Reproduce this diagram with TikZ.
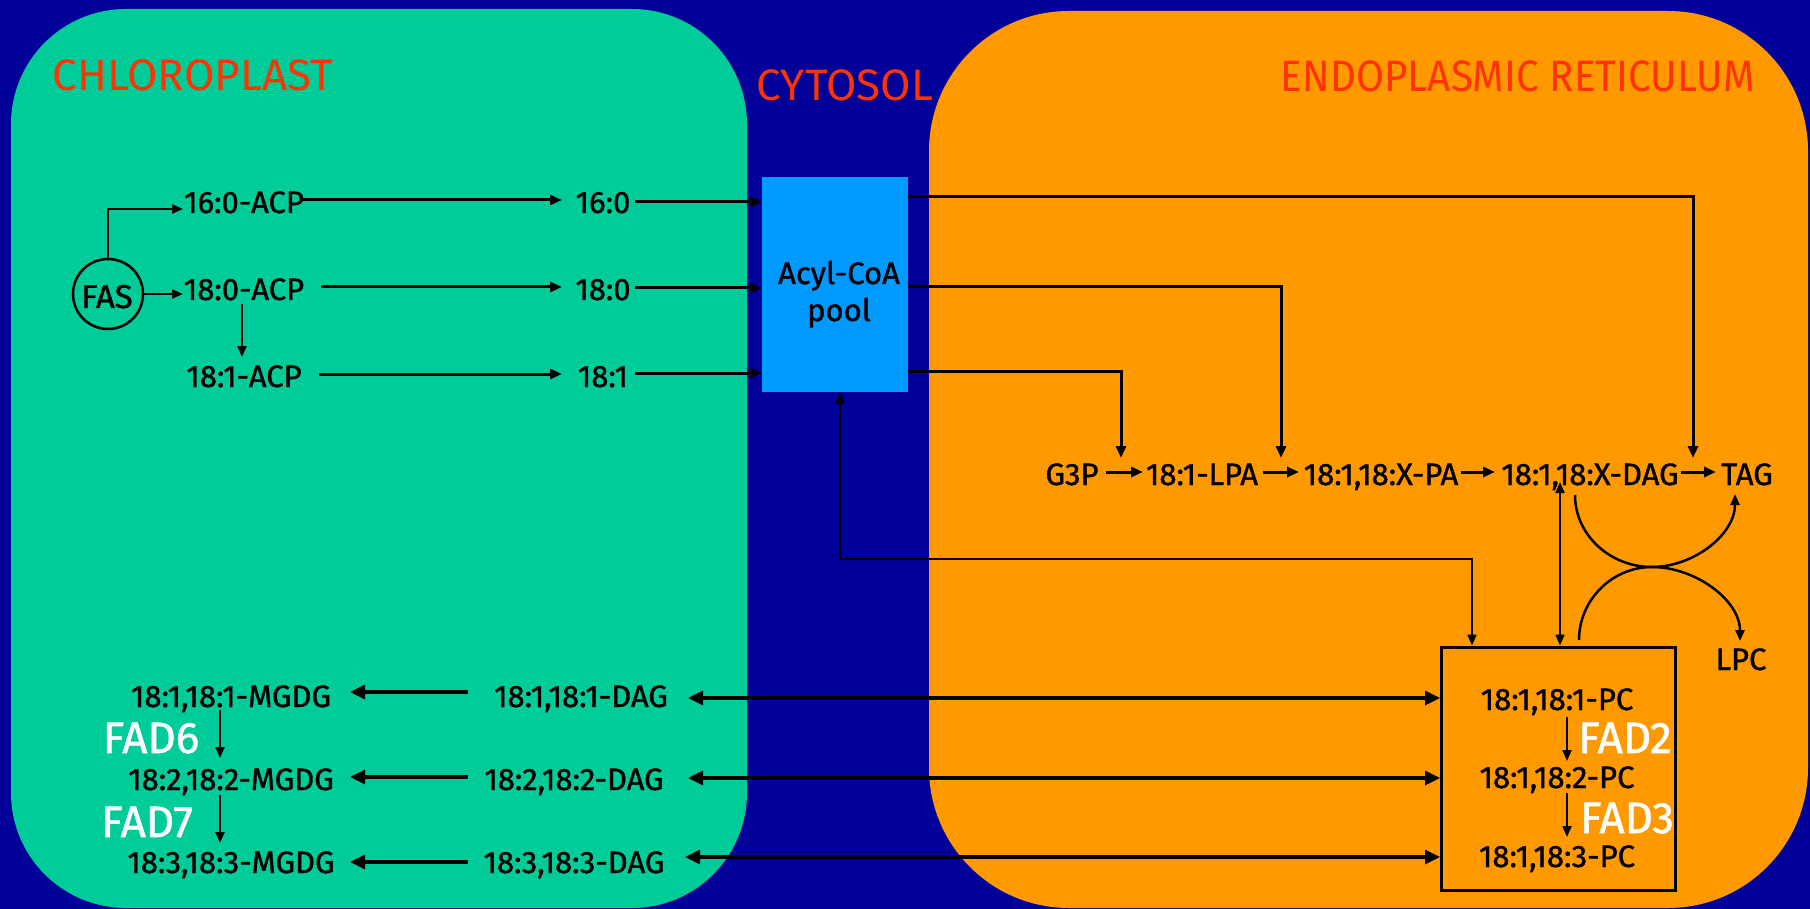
\documentclass[tikz,border=0pt]{standalone}
\usepackage{fontspec}
\setmainfont{Fira Sans}
\newfontfamily\erfont{Fira Sans}[FakeStretch=0.92]
\newfontfamily\lblfont{Fira Sans}[FakeBold=1.2]
\usetikzlibrary{arrows.meta}
\definecolor{bgblue}{RGB}{0,0,153}
\definecolor{chlgreen}{RGB}{0,204,153}
\definecolor{erorange}{RGB}{255,153,0}
\definecolor{acylblue}{RGB}{0,153,255}
\definecolor{titlered}{RGB}{255,51,0}
\tikzset{
  lbl/.style={inner sep=0pt, anchor=base, font=\fontsize{31}{34}\lblfont},
  ttl/.style={inner sep=0pt, anchor=base, text=titlered, font=\fontsize{44}{48}\selectfont},
  fad/.style={inner sep=0pt, anchor=base, text=white, font=\fontsize{44}{48}\lblfont},
  arr/.style={-{Triangle[length=12pt,width=10pt]}, line width=3pt},
  thinarr/.style={-{Triangle[length=11pt,width=9pt]}, line width=2.2pt},
  bigarr/.style={-{Triangle[length=15pt,width=14pt]}, line width=3.2pt},
  dblarr/.style={{Triangle[length=15pt,width=14pt]}-{Triangle[length=15pt,width=14pt]}, line width=3.2pt},
  thindbl/.style={{Triangle[length=11pt,width=9pt]}-{Triangle[length=11pt,width=9pt]}, line width=2.2pt},
  curvearr/.style={-{Triangle[length=11pt,width=9pt]}, line width=2.5pt},
}
\begin{document}
\begin{tikzpicture}[x=1pt,y=-1pt]
\useasboundingbox (0,0) rectangle (1810,909);
\fill[bgblue] (0,0) rectangle (1810,909);
% compartments
\fill[chlgreen, rounded corners=115pt] (11,9) rectangle (747,908);
\fill[erorange, rounded corners=140pt] (929,11) rectangle (1808,908);
% titles
\node[ttl] (tchl) at (193,91) {CHLOROPLAST};
\node[ttl] (tcyt) at (845,101) {CYTOSOL};
\node[ttl, font=\fontsize{44}{48}\erfont] (ter) at (1518,92) {ENDOPLASMIC RETICULUM};
% acyl-CoA pool
\node[fill=acylblue, minimum width=146pt, minimum height=215pt, inner sep=0pt] (acyl) at (835,284.5) {};
\node[lbl] (acylt1) at (839,284) {Acyl-CoA};
\node[lbl] (acylt2) at (839,321) {pool};
% FAS
\node[draw, circle, line width=2.5pt, minimum size=70pt, inner sep=0pt] (fas) at (108,294) {};
\node[lbl, font=\fontsize{33}{36}\lblfont] (fast) at (107,308) {FAS};
% chloroplast labels
\node[lbl] (a160) at (244,213) {16:0-ACP};
\node[lbl] (a180) at (244,300) {18:0-ACP};
\node[lbl] (a181) at (244,387) {18:1-ACP};
\node[lbl] (f160) at (603,213) {16:0};
\node[lbl] (f180) at (603,300) {18:0};
\node[lbl] (f181) at (603,387) {18:1};
\node[lbl] (m1) at (231,707) {18:1,18:1-MGDG};
\node[lbl] (m2) at (231,790) {18:2,18:2-MGDG};
\node[lbl] (m3) at (231,873) {18:3,18:3-MGDG};
\node[lbl] (d1) at (581,707) {18:1,18:1-DAG};
\node[lbl] (d2) at (574,790) {18:2,18:2-DAG};
\node[lbl] (d3) at (574,873) {18:3,18:3-DAG};
\node[fad] (fad6) at (151,753) {FAD6};
\node[fad] (fad7) at (147,837) {FAD7};
% ER labels
\node[lbl] (g3p) at (1072,485) {G3P};
\node[lbl] (lpa) at (1202,485) {18:1-LPA};
\node[lbl] (pa) at (1381,485) {18:1,18:X-PA};
\node[lbl] (dag) at (1590,485) {18:1,18:X-DAG};
\node[lbl] (tag) at (1747,485) {TAG};
\node[lbl] (lpc) at (1741,670) {LPC};
\node[draw, line width=3pt, minimum width=234pt, minimum height=243pt, inner sep=0pt] (pcbox) at (1558.5,768.5) {};
\node[lbl] (pc1) at (1557,710) {18:1,18:1-PC};
\node[lbl] (pc2) at (1557,788) {18:1,18:2-PC};
\node[lbl] (pc3) at (1557,867) {18:1,18:3-PC};
\node[fad] (fad2) at (1625,753) {FAD2};
\node[fad] (fad3) at (1627,833) {FAD3};
% helper coordinates
\coordinate (c160) at (183,209);
\coordinate (c180) at (183,294);
\coordinate (jG) at (1121,458);
\coordinate (jL) at (1281,458);
\coordinate (jT) at (1693,458);
\coordinate (pcin) at (1472,559);
\coordinate (cx) at (1652,567);
\coordinate (dagpc) at (1560,482);
\coordinate (acylpc) at (840,559);
% FAS arrows
\draw[thinarr] (fas.north) |- (c160);
\draw[thinarr] (fas.east) -- (c180);
% chloroplast row arrows
\draw[arr] (301,200) -- (562,200);
\draw[arr] (321,287) -- (562,287);
\draw[arr] (319,374) -- (562,374);
\draw[thinarr] (242,304) -- (242,357);
\draw[arr] (635,202) -- (acyl.west |- 0,202);
\draw[arr] (635,288) -- (acyl.west |- 0,288);
\draw[arr] (635,373) -- (acyl.west |- 0,373);
% acyl pool to ER
\draw[arr] (acyl.east |- 0,197) -| (jT);
\draw[arr] (acyl.east |- 0,287) -| (jL);
\draw[arr] (acyl.east |- 0,371) -| (jG);
% Kennedy pathway
\draw[arr] (1106,472) -- (1143,472);
\draw[arr] (1263,472) -- (1299,472);
\draw[arr] (1461,472) -- (1495,472);
\draw[arr] (1681,472) -- (1716,472);
% DAG <-> PC
\draw[thindbl] (dagpc) -- (dagpc |- pcbox.north);
% curves
\draw[curvearr] (1575,495) .. controls (1575,535) and (1610,567) .. (cx) .. controls (1693,567) and (1735,535) .. (1735,494);
\draw[curvearr] (1579,640) .. controls (1579,600) and (1612,567) .. (cx) .. controls (1695,567) and (1740,600) .. (1740,641);
% acyl <-> PC box
\draw[thindbl] (acylpc |- acyl.south) -- (acylpc) -- (pcin) -- (pcin |- pcbox.north);
% DAG <-> PC rows
\draw[dblarr] (688,698) -- (pcbox.west |- 0,698);
\draw[dblarr] (688,778) -- (pcbox.west |- 0,778);
\draw[dblarr] (685,857) -- (pcbox.west |- 0,857);
% DAG -> MGDG
\draw[bigarr] (468,692) -- (350,692);
\draw[bigarr] (468,777) -- (350,777);
\draw[bigarr] (468,862) -- (350,862);
% desaturations
\draw[thinarr] (220,710) -- (220,758);
\draw[thinarr] (220,795) -- (220,843);
\draw[thinarr] (1567,717) -- (1567,761);
\draw[thinarr] (1567,793) -- (1567,837);
\end{tikzpicture}
\end{document}
